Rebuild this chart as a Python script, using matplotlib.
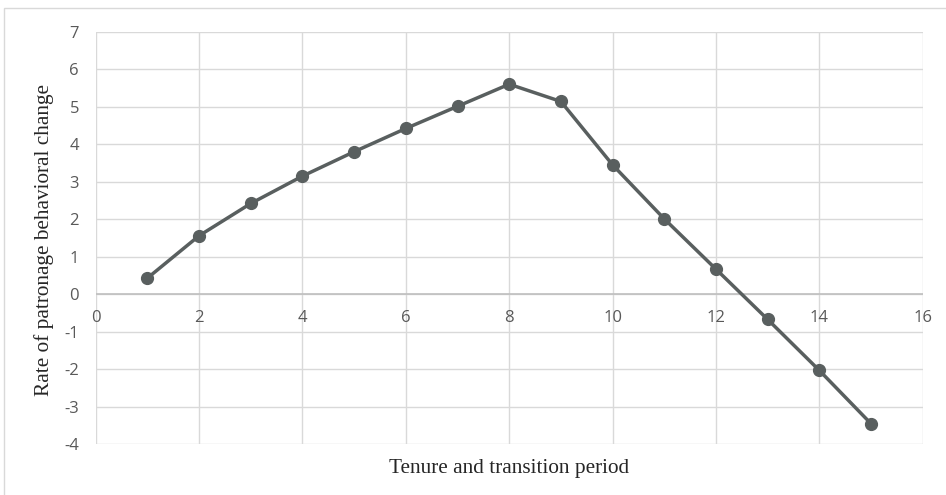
import matplotlib
matplotlib.use("Agg")
import matplotlib.pyplot as plt
from matplotlib.patches import Rectangle

periods = [1, 2, 3, 4, 5, 6, 7, 8, 9, 10, 11, 12, 13, 14, 15]
rates = [0.43, 1.56, 2.42, 3.15, 3.80, 4.42, 5.01, 5.60, 5.14, 3.45, 2.01, 0.67, -0.67, -2.03, -3.45]
x_ticks = [0, 2, 4, 6, 8, 10, 12, 14, 16]
y_ticks = [-4, -3, -2, -1, 0, 1, 2, 3, 4, 5, 6, 7]
x_title = "Tenure and transition period"
y_title = "Rate of patronage behavioral change"

W, H = 946, 495
fig = plt.figure(figsize=(W / 100, H / 100), dpi=100)
fig.patch.set_facecolor("white")

# outer chart border (left and top visible)
fig.add_artist(Rectangle((4 / W, -0.05), 1.2, 1 - 8 / H + 0.05, transform=fig.transFigure,
                         fill=False, edgecolor="#d9d9d9", linewidth=1.0))

left, right = 95.7 / W, 922.7 / W
bottom, top = 1 - 444.3 / H, 1 - 31.7 / H
ax = fig.add_axes([left, bottom, right - left, top - bottom])

ax.set_xlim(0, 16)
ax.set_ylim(-4, 7)
ax.set_xticks(x_ticks)
ax.set_yticks(y_ticks)
ax.grid(True, color="#d9d9d9", linewidth=1.0)
ax.set_axisbelow(True)
for s in ax.spines.values():
    s.set_visible(False)
ax.axhline(0, color="#bfbfbf", linewidth=1.2, zorder=1)
ax.tick_params(length=0)

tick_font = dict(family="Open Sans", size=12, color="#595959")
ax.set_yticklabels([str(v) for v in y_ticks], **tick_font)
ax.tick_params(axis="y", pad=12)
ax.set_xticklabels([])
for xv in x_ticks:
    ax.text(xv, -0.42, str(xv), ha="center", va="top", **tick_font)

ax.plot(periods, rates, color="#595f5f", linewidth=2.5, marker="o", markersize=8.5,
        markerfacecolor="#595f5f", markeredgecolor="#595f5f", zorder=3, clip_on=False)

fig.text((95.7 + 922.7) / 2 / W, 1 - 468 / H, x_title, ha="center", va="center",
         family="Liberation Serif", size=15.3, color="#262626")
fig.text(44 / W, 1 - 240 / H, y_title, ha="center", va="center", rotation=90,
         family="Liberation Serif", size=15.3, color="#262626")

fig.savefig("out.png", dpi=100, facecolor="white")
